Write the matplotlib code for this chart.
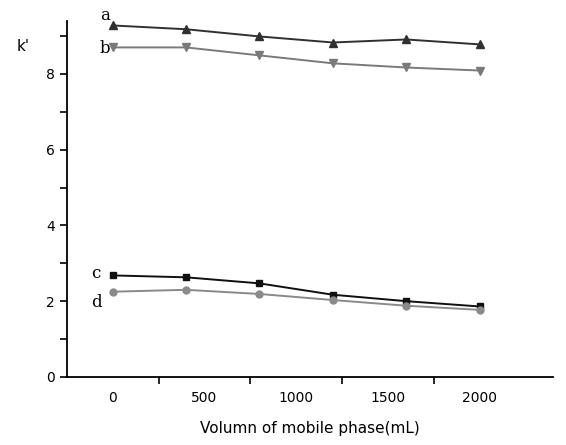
import matplotlib
matplotlib.use("Agg")
import matplotlib.pyplot as plt

vol = [0, 400, 800, 1200, 1600, 2000]
k_a = [9.28, 9.18, 8.99, 8.83, 8.91, 8.78]
k_b = [8.70, 8.70, 8.49, 8.28, 8.17, 8.09]
k_c = [2.68, 2.63, 2.47, 2.17, 2.00, 1.86]
k_d = [2.25, 2.30, 2.19, 2.03, 1.88, 1.77]

fig = plt.figure(figsize=(5.66, 4.45), dpi=100)
ax = fig.add_axes([0.118, 0.153, 0.859, 0.80])

ax.plot(vol, k_a, c='#303030', marker='^', ms=6, lw=1.4)
ax.plot(vol, k_b, c='#7a7a7a', marker='v', ms=6, lw=1.4)
ax.plot(vol, k_c, c='#101010', marker='s', ms=4.5, lw=1.4)
ax.plot(vol, k_d, c='#8a8a8a', marker='o', ms=5, lw=1.4)

ax.set_xlim(-250, 2400)
ax.set_ylim(0, 9.4)
ax.spines['top'].set_visible(False)
ax.spines['right'].set_visible(False)
ax.spines['left'].set_linewidth(1.3)
ax.spines['bottom'].set_linewidth(1.3)

ax.set_yticks([0, 2, 4, 6, 8])
ax.set_yticks([1, 3, 5, 7, 9], minor=True)
ax.set_xticks([0, 500, 1000, 1500, 2000])
ax.set_xticks([250, 750, 1250, 1750], minor=True)
ax.tick_params(axis='y', which='both', direction='out', length=5, width=1.2, labelsize=10)
ax.tick_params(axis='x', which='major', length=0, pad=10, labelsize=10)
ax.tick_params(axis='x', which='minor', direction='out', length=5, width=1.2)

ax.set_xlabel('Volumn of mobile phase(mL)', fontsize=11, labelpad=12)
fig.text(0.03, 0.885, "k'", fontsize=11)

ax.text(-70, 9.42, 'a', fontsize=12, family='DejaVu Serif', clip_on=False)
ax.text(-70, 8.55, 'b', fontsize=12, family='DejaVu Serif')
ax.text(-120, 2.6, 'c', fontsize=12, family='DejaVu Serif')
ax.text(-120, 1.85, 'd', fontsize=12, family='DejaVu Serif')

plt.savefig("out.png")
